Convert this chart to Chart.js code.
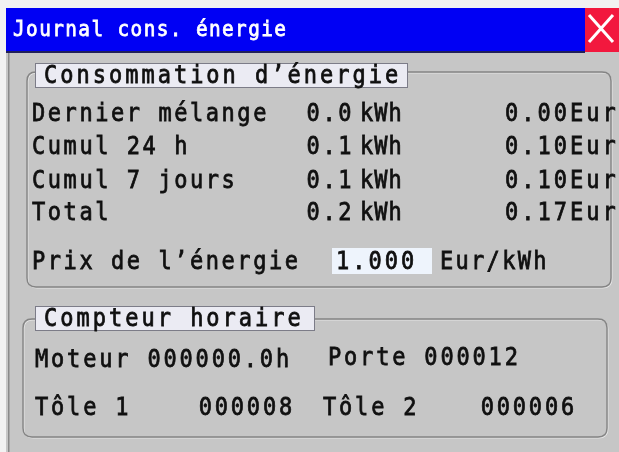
<!DOCTYPE html>
<html>
<head>
<meta charset="utf-8">
<script src="https://cdn.jsdelivr.net/npm/chart.js@4"></script>
<style>
  html, body { margin: 0; padding: 0; background: #c6c6c6; }
  canvas { display: block; }
</style>
</head>
<body>
<canvas id="panel" width="619" height="452"></canvas>
<script>
// Panel texts and values
const windowTitle = 'Journal cons. énergie';
const energyTitle = 'Consommation d\u2019énergie';
const energyLabels = ['Dernier mélange', 'Cumul 24 h', 'Cumul 7 jours', 'Total'];
const energyKwh = [0.0, 0.1, 0.1, 0.2];
const energyEur = [0.00, 0.10, 0.10, 0.17];
const priceLabel = 'Prix de l\u2019énergie';
const priceValue = 1.000;
const priceUnit = 'Eur/kWh';
const counterTitle = 'Compteur horaire';
const counterLabels = ['Moteur', 'Porte', 'Tôle 1', 'Tôle 2'];
const counterValues = ['000000.0h', '000012', '000008', '000006'];

const MONO = '"DejaVu Sans Mono", "Liberation Mono", monospace';

function roundRect(ctx, x, y, w, h, r) {
    ctx.beginPath();
    ctx.moveTo(x + r, y);
    ctx.lineTo(x + w - r, y);
    ctx.quadraticCurveTo(x + w, y, x + w, y + r);
    ctx.lineTo(x + w, y + h - r);
    ctx.quadraticCurveTo(x + w, y + h, x + w - r, y + h);
    ctx.lineTo(x + r, y + h);
    ctx.quadraticCurveTo(x, y + h, x, y + h - r);
    ctx.lineTo(x, y + r);
    ctx.quadraticCurveTo(x, y, x + r, y);
    ctx.closePath();
}

// text is drawn slightly condensed and thickened to mimic the HMI font
function text(ctx, s, x, y, opts) {
    opts = opts || {};
    const sx = 0.88;
    ctx.save();
    ctx.font = (opts.size || 25) + 'px ' + MONO;
    ctx.letterSpacing = (opts.spacing != null ? opts.spacing : 2.9) + 'px';
    ctx.fillStyle = opts.color || '#101010';
    ctx.strokeStyle = opts.color || '#101010';
    ctx.lineWidth = 0.8;
    ctx.textAlign = opts.align || 'left';
    ctx.textBaseline = 'middle';
    ctx.translate(x, y);
    ctx.scale(sx, 1);
    ctx.fillText(s, 0, 0);
    ctx.strokeText(s, 0, 0);
    ctx.restore();
}

function frame(ctx, x, y, w, h) {
    roundRect(ctx, x + 1, y + 1, w, h, 9);
    ctx.strokeStyle = '#e4e4e4';
    ctx.lineWidth = 1;
    ctx.stroke();
    roundRect(ctx, x, y, w, h, 9);
    ctx.strokeStyle = '#848484';
    ctx.lineWidth = 1.4;
    ctx.stroke();
}

function labelBox(ctx, x, y, w, h, s) {
    ctx.fillStyle = '#ebebf3';
    ctx.fillRect(x, y, w, h);
    ctx.strokeStyle = '#7c7c88';
    ctx.lineWidth = 1;
    ctx.strokeRect(x + 0.5, y + 0.5, w - 1, h - 1);
    text(ctx, s, x + 9, y + h / 2 + 1, { spacing: 3.4 });
}

const panelPlugin = {
    id: 'hmiPanel',
    beforeDraw(chart) {
        const ctx = chart.ctx;
        ctx.save();
        // window background
        ctx.fillStyle = '#c6c6c6';
        ctx.fillRect(0, 0, chart.width, chart.height);
        ctx.fillStyle = '#f2f2f2';
        ctx.fillRect(0, 0, chart.width, 8);
        ctx.fillRect(0, 0, 6, chart.height);
        ctx.fillStyle = '#8a8a8a';
        ctx.fillRect(8, 52, 1.5, chart.height - 52);

        // title bar
        ctx.fillStyle = '#0000f4';
        ctx.fillRect(6, 8, 579, 44);
        ctx.fillStyle = '#20205a';
        ctx.fillRect(6, 51, 579, 2);
        ctx.fillStyle = '#f2183e';
        ctx.fillRect(585, 8, 34, 44);
        ctx.strokeStyle = '#ffffff';
        ctx.lineWidth = 3;
        ctx.beginPath();
        ctx.moveTo(589, 15); ctx.lineTo(613, 42);
        ctx.moveTo(613, 15); ctx.lineTo(589, 42);
        ctx.stroke();
        text(ctx, windowTitle, 13, 30, { size: 22, spacing: 1.6, color: '#ffffff' });

        // energy group
        frame(ctx, 27, 72, 584, 215);
        labelBox(ctx, 35, 63, 373, 25, energyTitle);
        const rowsY = [114, 147, 181, 213];
        energyLabels.forEach((lab, i) => {
            text(ctx, lab, 32, rowsY[i]);
            text(ctx, energyKwh[i].toFixed(1), 354, rowsY[i], { align: 'right' });
            text(ctx, 'kWh', 360, rowsY[i], { spacing: 1.2 });
            text(ctx, energyEur[i].toFixed(2) + 'Eur', 505, rowsY[i], { spacing: 3.4 });
        });
        text(ctx, priceLabel, 32, 262);
        ctx.fillStyle = '#eef4fc';
        ctx.fillRect(332, 248, 100, 26);
        text(ctx, priceValue.toFixed(3), 336, 262, { spacing: 3.4 });
        text(ctx, priceUnit, 440, 262, { spacing: 2.6 });

        // counter group
        frame(ctx, 23, 319, 584, 118);
        labelBox(ctx, 35, 306, 280, 25, counterTitle);
        text(ctx, counterLabels[0] + ' ' + counterValues[0], 35, 360, { spacing: 3.2 });
        text(ctx, counterLabels[1] + ' ' + counterValues[1], 328, 358, { spacing: 3.2 });
        text(ctx, counterLabels[2], 35, 408, { spacing: 3.2 });
        text(ctx, counterValues[2], 295, 408, { align: 'right', spacing: 3.2 });
        text(ctx, counterLabels[3], 323, 408, { spacing: 3.2 });
        text(ctx, counterValues[3], 577, 408, { align: 'right', spacing: 3.2 });
        ctx.restore();
    }
};

new Chart(document.getElementById('panel').getContext('2d'), {
    type: 'bar',
    data: { labels: [], datasets: [] },
    options: {
        responsive: false,
        animation: false,
        layout: { padding: 0 },
        plugins: { legend: { display: false }, tooltip: { enabled: false } },
        scales: { x: { display: false }, y: { display: false } }
    },
    plugins: [panelPlugin]
});
</script>
</body>
</html>
